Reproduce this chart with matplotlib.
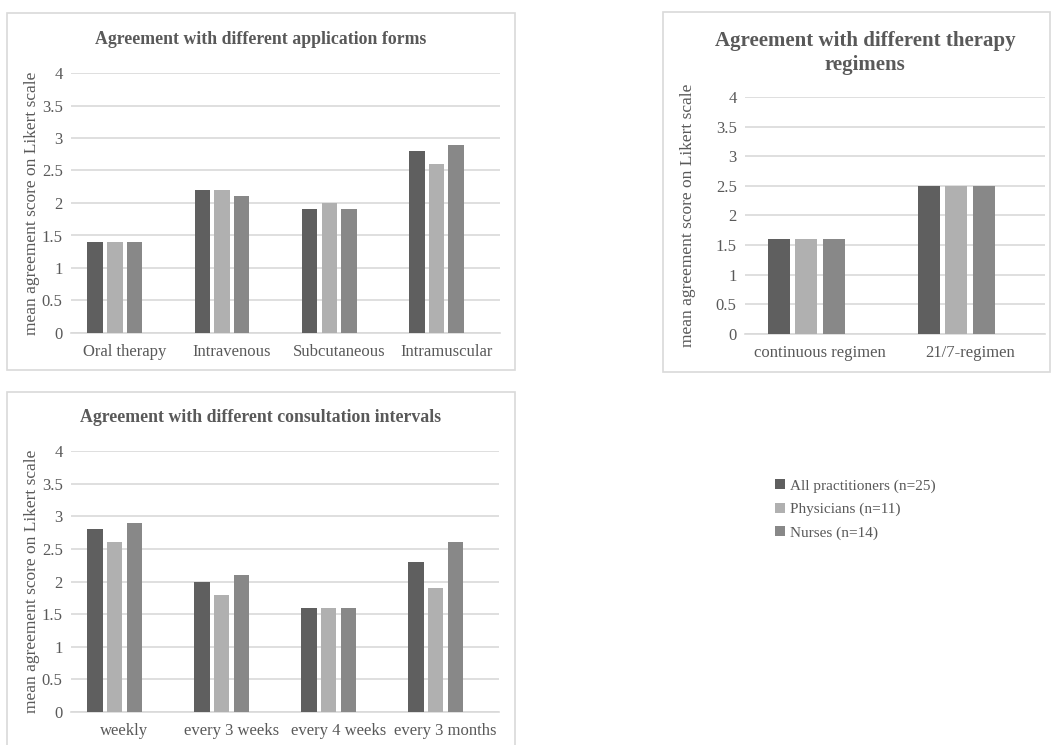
import matplotlib
matplotlib.use("Agg")
import matplotlib.pyplot as plt
from matplotlib.patches import Rectangle, Patch
import numpy as np

plt.rcParams['font.family'] = ['Liberation Serif', 'DejaVu Serif']

series_names = ['All practitioners (n=25)', 'Physicians (n=11)', 'Nurses (n=14)']
colors = ['#5f5f5f', '#b0b0b0', '#888888']

forms = ['Oral therapy', 'Intravenous', 'Subcutaneous', 'Intramuscular']
forms_all = [1.4, 2.2, 1.9, 2.8]
forms_phys = [1.4, 2.2, 2.0, 2.6]
forms_nurse = [1.4, 2.1, 1.9, 2.9]

regimens = ['continuous regimen', '21/7-regimen']
reg_all = [1.6, 2.5]
reg_phys = [1.6, 2.5]
reg_nurse = [1.6, 2.5]

intervals = ['weekly', 'every 3 weeks', 'every 4 weeks', 'every 3 months']
int_all = [2.8, 2.0, 1.6, 2.3]
int_phys = [2.6, 1.8, 1.6, 1.9]
int_nurse = [2.9, 2.1, 1.6, 2.6]

W, H = 1051, 745
fig = plt.figure(figsize=(W / 100, H / 100), dpi=100)
text_c = '#595959'
grid_c = '#d9d9d9'


def px_axes(left, top, right, bottom):
    return fig.add_axes([left / W, 1 - bottom / H, (right - left) / W, (bottom - top) / H])


def box(left, top, right, bottom):
    fig.add_artist(Rectangle((left / W, 1 - bottom / H), (right - left) / W, (bottom - top) / H,
                             transform=fig.transFigure, fill=False, edgecolor=grid_c, lw=1.2))


def bar_panel(ax, cats, values, title, title_x, title_y, title_size, ylabel_x):
    x = np.arange(len(cats))
    slot = 0.183
    bw = 0.145
    # four slots per category, the fourth one stays empty
    for j, (vals, c) in enumerate(zip(values, colors)):
        ax.bar(x + (j - 1.5) * slot, vals, width=bw, color=c, zorder=3)
    ax.set_xlim(-0.5, len(cats) - 0.5)
    ax.set_ylim(0, 4)
    ax.set_yticks(np.arange(0, 4.01, 0.5))
    ax.set_yticklabels(['0', '0.5', '1', '1.5', '2', '2.5', '3', '3.5', '4'])
    ax.set_xticks(x)
    ax.set_xticklabels(cats)
    ax.tick_params(axis='both', length=0, colors=text_c, labelsize=12)
    ax.tick_params(axis='x', pad=8)
    ax.tick_params(axis='y', pad=6)
    for s in ['top', 'right', 'left']:
        ax.spines[s].set_visible(False)
    ax.spines['bottom'].set_color(grid_c)
    ax.spines['bottom'].set_linewidth(1.2)
    ax.yaxis.grid(True, color=grid_c, lw=1.2, zorder=0)
    ax.set_axisbelow(True)
    ax.set_ylabel('mean agreement score on Likert scale', fontsize=12.5, color=text_c, va='center')
    ax.yaxis.set_label_coords(ylabel_x, 0.5)
    fig.text(title_x / W, 1 - title_y / H, title, ha='center', va='center',
             fontsize=title_size, fontweight='bold', color=text_c, linespacing=1.3)


box(7, 13, 515, 370)
box(663, 12, 1050, 372)
box(7, 392, 515, 750)

ax1 = px_axes(71, 73, 500, 333)
bar_panel(ax1, forms, [forms_all, forms_phys, forms_nurse],
          'Agreement with different application forms', 261, 40, 12.8, (32 - 71) / 429)

ax2 = px_axes(745, 97, 1045, 334)
bar_panel(ax2, regimens, [reg_all, reg_phys, reg_nurse],
          'Agreement with different therapy\nregimens', 865, 53, 15, (688 - 745) / 300)

ax3 = px_axes(71, 451, 499, 712)
bar_panel(ax3, intervals, [int_all, int_phys, int_nurse],
          'Agreement with different consultation intervals', 260, 418, 12.8, (32 - 71) / 428)

handles = [Patch(facecolor=c, edgecolor='none') for c in colors]
leg = fig.legend(handles, series_names, loc='upper left', bbox_to_anchor=(775 / W, 1 - 479 / H),
                 frameon=False, fontsize=11, handlelength=0.65, handleheight=0.65,
                 handletextpad=0.3, labelspacing=0.65, borderaxespad=0, borderpad=0)
for t in leg.get_texts():
    t.set_color(text_c)

fig.savefig('out.png', dpi=100)
